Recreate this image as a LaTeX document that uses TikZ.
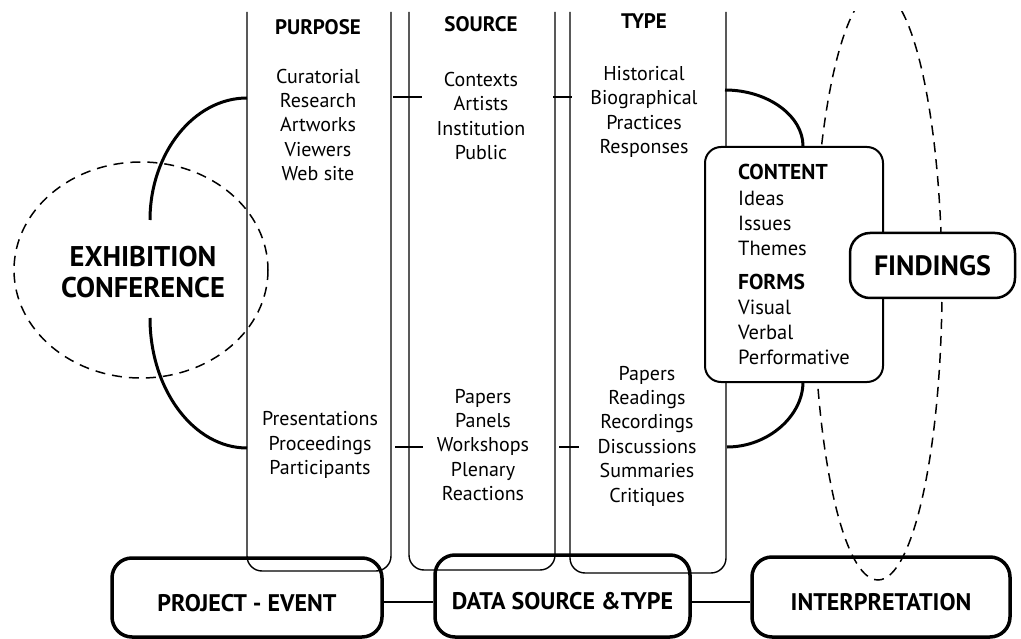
\documentclass[tikz,border=0pt]{standalone}
\usepackage{fontspec}
\setmainfont{PT Sans}
\usetikzlibrary{calc}
\begin{document}
\begin{tikzpicture}[x=1pt,y=-1pt,
  column/.style={line width=1.4pt, rounded corners=15pt},
  link/.style={line width=3pt},
  tie/.style={line width=2pt},
  halo/.style={line width=1.5pt, dash pattern=on 10pt off 7pt},
  listtext/.style={align=center, inner sep=0pt, font=\fontsize{20}{24.4}\selectfont},
  head/.style={inner sep=0pt, font=\bfseries\fontsize{21}{22}\selectfont},
  stage/.style={draw, line width=3.5pt, rounded corners=20pt, inner sep=0pt,
    text height=27pt, text depth=0pt, font=\bfseries\fontsize{24}{26}\selectfont},
]
\useasboundingbox (0,0) rectangle (1021,639);

% dashed regions
\draw[halo] (141,270) ellipse [x radius=127, y radius=108];
\begin{scope}
  \clip (0,12) rectangle (1021,639);
  \draw[halo] (878,285) ellipse [x radius=64, y radius=295];
\end{scope}

% the three open columns
\draw[column] (247,12) -- (247,571) -- (391,571) -- (391,12);
\draw[column] (409,12) -- (409,570) -- (555,570) -- (555,12);
\draw[column] (570,12) -- (570,573) -- (726,573) -- (726,12);

% attachment points of the curved links
\coordinate (pA) at (247,98);
\coordinate (eA) at (150,220);
\coordinate (eB) at (150,318);
\coordinate (pB) at (247,448);
\coordinate (tA) at (725,90);
\coordinate (cA) at (803,146);
\coordinate (cB) at (803,382);
\coordinate (tB) at (727,447);

\draw[link] (pA) .. controls (194,98) and (150,153) .. (eA);
\draw[link] (eB) .. controls (150,390) and (194,448) .. (pB);
\draw[link] (tA) .. controls (768,90) and (803,116) .. (cA);
\draw[link] (cB) .. controls (803,416) and (768,447) .. (tB);

% short ties between neighbouring columns
\coordinate (u1a) at (393,97);  \coordinate (u1b) at (422,97);
\coordinate (u2a) at (553,97);  \coordinate (u2b) at (572,97);
\coordinate (l1a) at (395,447); \coordinate (l1b) at (423,447);
\coordinate (l2a) at (559,447); \coordinate (l2b) at (579,447);
\draw[tie] (u1a) -- (u1b);
\draw[tie] (u2a) -- (u2b);
\draw[tie] (l1a) -- (l1b);
\draw[tie] (l2a) -- (l2b);

% content and findings boxes
\node[draw, fill=white, line width=2pt, rounded corners=16pt,
  minimum width=178pt, minimum height=235pt, inner sep=0pt,
  align=left, font=\fontsize{20.5}{25}\selectfont] (content) at (794,264.5)
  {{\bfseries\fontsize{21.5}{25}\selectfont CONTENT}\\[1pt]
   Ideas\\ Issues\\ Themes\\[9pt]
   {\bfseries\fontsize{21.5}{25}\selectfont FORMS}\\
   Visual\\ Verbal\\ Performative};

\node[draw, fill=white, line width=2.5pt, rounded corners=20pt,
  minimum width=165pt, minimum height=65pt, inner sep=0pt,
  font=\bfseries\fontsize{28}{30}\selectfont] (findings) at (932.5,265.5) {FINDINGS};

% column headings and lists
\node[head] (purpose) at (318,27) {PURPOSE};
\node[head] (source) at (481,24) {SOURCE};
\node[head] (type) at (644,21) {TYPE};

\node[listtext] (purposeA) at (318,125)
  {Curatorial\\ Research\\ Artworks\\ Viewers\\ Web site};
\node[listtext] (sourceA) at (481,116)
  {Contexts\\ Artists\\ Institution\\ Public};
\node[listtext] (typeA) at (644,112)
  {Historical\\ Biographical\\ Practices\\ Responses};

\node[listtext] (purposeB) at (320,445)
  {Presentations\\ Proceedings\\ Participants};
\node[listtext] (sourceB) at (483,445)
  {Papers\\ Panels\\ Workshops\\ Plenary\\ Reactions};
\node[listtext] (typeB) at (647,436)
  {Papers\\ Readings\\ Recordings\\ Discussions\\ Summaries\\ Critiques};

% event label
\node[align=center, inner sep=0pt, font=\bfseries\fontsize{28.5}{31}\selectfont]
  (event) at (143,272) {EXHIBITION\\CONFERENCE};

% bottom stages
\node[stage, minimum width=270pt, minimum height=79pt] (proj) at (247,597.5) {PROJECT - EVENT};
\node[stage, minimum width=255pt, minimum height=82pt] (data) at (562.5,596) {DATA SOURCE \&TYPE};
\node[stage, minimum width=258pt, minimum height=80pt] (interp) at (881,597) {INTERPRETATION};

\coordinate (lane) at (0,602);
\draw[tie] (proj.east |- lane) -- (data.west |- lane);
\draw[tie] (data.east |- lane) -- (interp.west |- lane);
\end{tikzpicture}
\end{document}
